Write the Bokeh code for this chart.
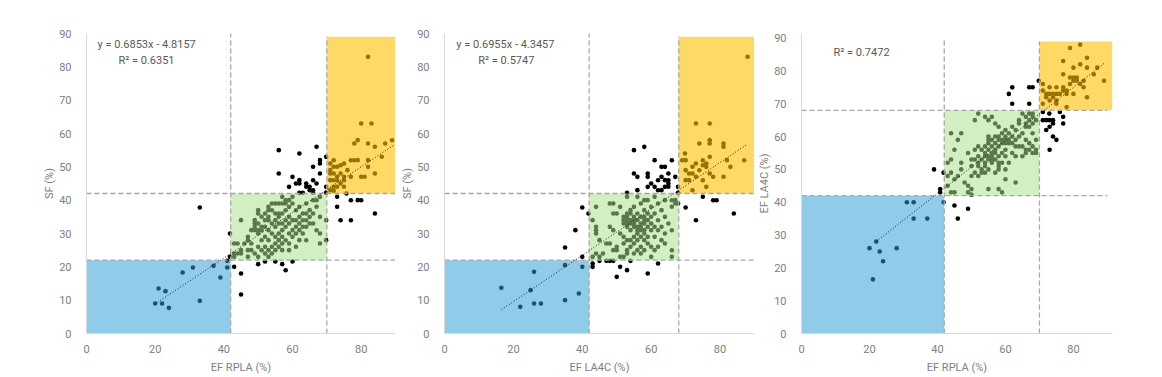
from bokeh.plotting import figure
from bokeh.layouts import row
from bokeh.models import Range1d, FixedTicker, Label
from bokeh.embed import file_html
from bokeh.resources import INLINE

# ---------------- data ----------------
# Panel 1: EF RPLA (x) vs SF (y)
p1_points = [
    # low group
    (20, 9), (21, 13.5), (22, 9), (23, 12.7), (24, 7.7), (28, 18.3), (31, 19.8), (33, 9.8),
    (37, 20.3), (39, 16.8), (41, 19.8),
    # outside boxes
    (33, 37.8), (41, 21.8), (41.8, 23), (41.8, 30), (43, 20), (45, 18), (45, 11.7), (50, 20.8),
    (52, 21.6), (55, 21.6), (57, 20.8), (58, 19), (60, 21.6),
    (56, 55), (56, 48), (62, 54), (60, 47), (59, 44), (62, 46), (62, 45), (64, 45), (62, 42.2),
    (63, 42.2), (65, 43), (66, 43), (66, 42.2), (66, 46), (66, 50), (67, 56), (68, 52), (68, 51),
    (68, 48), (69.8, 53), (69.8, 44), (69.8, 42.2), (64, 44), (65, 44), (67, 45), (61, 45),
    (69.8, 34), (69.8, 28), (73, 41), (73, 38), (74, 34), (75.7, 42), (77, 40), (77, 34),
    (79, 40), (80, 40), (84, 36),
    # high group
    (71, 51), (72, 50), (73, 50), (74, 50.5), (75, 51), (71, 46), (72, 46), (73, 47), (73, 46),
    (75, 47), (75, 46), (71, 43), (72, 44), (73, 44), (75, 44), (72, 48), (74, 48), (77, 47),
    (77, 52), (78, 52), (79, 52), (80, 47), (81, 47), (82, 50), (82, 52), (84, 48), (76, 49),
    (78, 57), (79, 58), (82, 57), (84, 56), (87, 57), (89, 58), (80, 63), (83, 63), (82, 83),
    (86, 53), (71, 48), (72, 42.8), (74, 45), (71, 49), (72, 52),
    # middle group
    (57, 41), (60, 41), (68, 41), (58, 40), (59, 40), (66, 40), (67, 40),
    (54, 39), (55, 39), (56, 39), (57, 39), (58, 39), (60, 39), (64, 39),
    (53, 38), (59, 38), (62, 38), (67, 38),
    (50, 37), (53, 37), (54, 37), (58, 37), (61, 37), (65, 37),
    (50, 36), (52, 36), (55, 36), (56, 36), (57, 36), (63, 36), (64, 36), (66, 36),
    (51, 35), (53, 35), (56, 35), (59, 35), (62, 35), (65, 35), (68, 35),
    (45, 34), (49, 34), (52, 34), (53, 34), (55, 34), (58, 34), (60, 34), (61, 34), (63, 34), (64, 34),
    (49, 33), (50, 33), (54, 33), (56, 33), (57, 33), (59, 33), (62, 33), (65, 33), (66, 33),
    (49, 32), (51, 32), (52, 32), (55, 32), (58, 32), (61, 32), (63, 32), (64, 32),
    (48, 31), (49, 31), (50, 31), (51, 31), (53, 31), (57, 31), (60, 31), (62, 31), (67, 31),
    (50, 30), (54, 30), (56, 30), (59, 30), (61, 30), (63, 30), (68, 30),
    (47, 29), (52, 29), (55, 29), (57, 29), (60, 29),
    (47, 28), (51, 28), (53, 28), (56, 28), (58, 28), (62, 28), (64, 28),
    (43, 27), (44, 27), (46, 27), (48, 27), (55, 27), (57, 27), (59, 27), (68, 27),
    (50, 26), (52, 26), (54, 26), (56, 26), (61, 26),
    (45, 25), (47, 25), (48, 25), (51, 25), (53, 25), (55, 25), (57, 25), (59, 25),
    (43, 24), (44, 24), (45, 24), (49, 24), (52, 24), (54, 24),
    (43, 23), (47, 23), (50, 23), (53, 23),
]

# Panel 2: EF LA4C (x) vs SF (y)
p2_points = [
    (16.5, 13.7), (22, 8), (25, 13), (26, 18.5), (26, 9), (28, 9), (35, 10), (35, 20.5),
    (39, 12), (40, 20),
    (40, 23), (35, 25.8), (38, 31), (40, 37.8), (41.8, 36), (43, 21), (43, 20), (45, 21.8),
    (47, 21.8), (48, 21.8), (49, 21.8), (50, 17), (51, 20), (53, 19), (54, 21.8), (59, 18), (62, 21),
    (55, 55), (58, 56), (55, 48), (56, 47), (56, 43), (53, 42.2), (59, 48), (59, 47), (60, 45),
    (59, 44), (61, 52), (62, 46), (63, 50), (64, 50), (63, 47), (64, 46), (64, 44), (63, 43),
    (65, 48), (65, 46), (65, 45), (65, 44), (66, 52), (67, 47), (67.8, 44), (67.8, 42.2),
    (61, 44), (62, 43),
    (67.8, 39), (70, 37.8), (73, 34), (75, 41), (78, 40), (79, 40), (84, 36),
    (69.8, 54), (69, 52), (70, 52), (71, 48), (72, 48), (72, 50), (73, 51), (73, 47), (70, 46),
    (71, 46), (72, 43), (73, 63), (77, 63), (74, 57), (77, 57), (75, 52), (76, 51), (75, 50.5),
    (76, 50), (77, 53), (75, 46), (77, 48), (78, 47), (81, 57), (81, 56), (81, 47), (82, 52),
    (83, 50), (87, 52), (88, 83), (77, 58), (74, 49), (70, 49), (76, 44),
    (53, 41), (56, 41), (61, 41), (58, 40), (59, 40), (64, 40), (66, 40), (67, 40),
    (48, 39), (49, 39), (57, 39), (62, 39), (67, 39),
    (44, 38), (51, 38), (55, 38), (60, 38), (66, 38),
    (54, 37), (58, 37), (63, 37),
    (49, 36), (50, 36), (53, 36), (54, 36), (56, 36), (59, 36), (61, 36),
    (52, 35), (53, 35), (55, 35), (57, 35), (58, 35), (60, 35), (64, 35),
    (43, 34), (52, 34), (53, 34), (54, 34), (55, 34), (56, 34), (58, 34), (59, 34), (62, 34),
    (52, 33), (53, 33), (54, 33), (55, 33), (57, 33), (58, 33), (60, 33), (65, 33),
    (44, 32), (48, 32), (53, 32), (55, 32), (56, 32), (57, 32), (59, 32), (61, 32), (63, 32),
    (44, 31), (49, 31), (54, 31), (56, 31), (57, 31), (58, 31), (60, 31), (62, 31), (66, 31),
    (44, 30), (51, 30), (56, 30), (58, 30), (64, 30),
    (52, 29), (55, 29), (57, 29), (59, 29), (61, 29),
    (45, 28), (53, 28), (54, 28), (56, 28), (58, 28), (63, 28),
    (47, 27), (48, 27), (52, 27), (55, 27), (59, 27), (64, 27),
    (50, 26), (54, 26), (57, 26), (60, 26), (62, 26),
    (49, 25), (50, 25), (53, 25), (56, 25), (58, 25), (61, 25), (66, 25),
    (44, 24), (46, 24), (53, 24), (55, 24), (57, 24),
    (43, 23), (45, 23), (51, 23), (52, 23), (60, 23), (66, 23),
]

# Panel 3: EF RPLA (x) vs EF LA4C (y)
p3_points = [
    (20, 26), (21, 16.5), (22, 28), (23, 25), (24, 22), (28, 26), (31, 40), (33, 40), (33, 35), (37, 35),
    (41.8, 40), (39, 50), (40.8, 44), (40.8, 43), (41.8, 49), (45, 39), (46, 35), (49, 38),
    (61, 73), (62, 75), (62, 70), (67, 75), (68, 75), (67, 70), (69.8, 77),
    (71, 65), (72, 65), (73, 65), (74, 65), (72.9, 67), (72, 62), (73, 63), (74, 64), (77, 66),
    (77, 64), (74, 60), (75, 59), (73, 56), (71, 67.5), (76, 67.5),
    (82, 88), (79, 87), (77, 83), (84, 84), (82, 82), (80, 81), (84, 81), (87, 81), (89, 77),
    (79, 78), (80, 78), (81, 78), (80, 77), (81, 77), (83, 77), (77, 79), (82, 76), (83, 75),
    (77, 75), (77, 74), (78, 74), (80, 73), (84, 72), (71, 76), (73, 75), (75, 75), (71, 74),
    (72, 73), (73, 73), (74, 73), (75, 73), (72, 72), (73, 71), (74, 72), (75, 71), (75, 70),
    (78, 69), (76, 73), (71, 70), (79, 76), (86, 79), (78, 73),
    (52, 67), (65, 67), (67, 67), (68, 67), (54, 66), (56, 66), (66, 66), (68, 66),
    (51, 65), (55, 65), (64, 65), (67, 65), (69, 65), (57, 64), (64, 64), (66, 64), (68, 64),
    (58, 63), (62, 63), (66, 63), (67, 63), (60, 62), (63, 62),
    (44, 61), (47, 61), (59, 61), (61, 61), (65, 61), (68, 61),
    (55, 60), (57, 60), (58, 60), (60, 60), (62, 60), (64, 60),
    (46, 59), (55, 59), (56, 59), (58, 59), (59, 59), (60, 59), (61, 59), (63, 59), (66, 59), (69, 59),
    (55, 58), (57, 58), (59, 58), (60, 58), (61, 58), (62, 58), (67, 58),
    (52, 57), (54, 57), (56, 57), (58, 57), (63, 57), (64, 57), (65, 57), (68, 57),
    (45, 56), (51, 56), (53, 56), (55, 56), (57, 56), (60, 56), (66, 56), (67, 56), (69, 56),
    (49, 55), (54, 55), (56, 55), (57, 55), (59, 55), (62, 55), (66, 55), (68, 55), (69, 55),
    (52, 54), (54, 54), (55, 54), (56, 54), (58, 54), (60, 54), (63, 54), (65, 54),
    (44, 53), (50, 53), (51, 53), (53, 53), (55, 53), (56, 53), (57, 53),
    (43, 52), (47, 52), (52, 52), (54, 52), (56, 52), (58, 52), (59, 52), (61, 52),
    (50, 51), (52, 51), (54, 51), (58, 51),
    (47, 50), (53, 50), (55, 50), (58, 50), (60, 50),
    (44, 49), (51, 49), (53, 49), (54, 49), (57, 49),
    (43, 48), (46, 48), (50, 48), (52, 48),
    (45, 47), (60, 47), (48, 46), (63, 46), (43, 45), (49, 45),
    (50, 44), (55, 44), (58, 44), (44, 43), (45, 43), (49, 43), (59, 43), (50, 42.3),
]

# zone thresholds (x cut points, y cut points)
p1_xcuts, p1_ycuts = [42, 70], [22, 42]
p2_xcuts, p2_ycuts = [42, 68], [22, 42]
p3_xcuts, p3_ycuts = [42, 70], [42, 68]

# trend lines: slope, intercept, x start, x end
p1_trend = (0.6853, -4.8157, 20, 90)
p2_trend = (0.6955, -4.3457, 16.5, 88)
p3_trend = (0.809, 10.26, 22, 89)

p1_text = ["y = 0.6853x - 4.8157", "R\u00b2 = 0.6351"]
p2_text = ["y = 0.6955x - 4.3457", "R\u00b2 = 0.5747"]
p3_text = ["R\u00b2 = 0.7472"]

x_labels = ["EF RPLA (%)", "EF LA4C (%)", "EF RPLA (%)"]
y_labels = ["SF (%)", "SF (%)", "EF LA4C (%)"]
x_ticks = [0, 20, 40, 60, 80]
y_ticks = [0, 10, 20, 30, 40, 50, 60, 70, 80, 90]

FONT = "Roboto"
BLUE, BLUE_A = "#2f9fd7", 0.535
GREEN, GREEN_A = "#a8e08a", 0.53
YELLOW, YELLOW_A = "#ffc000", 0.6
DASH_COLOR = "#a6a6a6"
TICK_COLOR = "#808080"
TEXT_COLOR = "#595959"

H, BT, BB = 377, 33, 44


def make_panel(points, xcuts, ycuts, trend, texts, text_pos, xlabel, ylabel,
               width, bl, br, xmax, ymax, ytop, vtop):
    p = figure(width=width, height=H, x_range=Range1d(0, xmax), y_range=Range1d(0, ymax),
               output_backend="svg", toolbar_location=None,
               min_border_left=bl, min_border_right=br, min_border_top=BT, min_border_bottom=BB)
    p.xgrid.visible = False
    p.ygrid.visible = False
    p.outline_line_color = None
    p.background_fill_color = "white"
    p.border_fill_color = "white"

    p.xaxis.ticker = FixedTicker(ticks=x_ticks)
    p.yaxis.ticker = FixedTicker(ticks=y_ticks)
    for ax in (p.xaxis[0], p.yaxis[0]):
        ax.major_tick_line_color = None
        ax.minor_tick_line_color = None
        ax.axis_line_color = "#d9d9d9"
        ax.axis_line_width = 1
        ax.major_label_text_color = TICK_COLOR
        ax.major_label_text_font = FONT
        ax.major_label_text_font_size = "11px"
        ax.axis_label_text_color = TICK_COLOR
        ax.axis_label_text_font = FONT
        ax.axis_label_text_font_size = "11px"
        ax.axis_label_text_font_style = "normal"
    p.xaxis.axis_label = xlabel
    p.yaxis.axis_label = ylabel
    p.xaxis.major_label_standoff = 5
    p.xaxis.axis_label_standoff = 5
    p.yaxis.major_label_standoff = 9
    p.yaxis.axis_label_standoff = 0

    xs = [pt[0] for pt in points]
    ys = [pt[1] for pt in points]
    p.scatter(xs, ys, size=4.6, color="black", line_width=0)

    # zones drawn over the points
    x1, x2 = xcuts
    y1, y2 = ycuts
    p.quad(left=[0], right=[x1], bottom=[0], top=[y1], fill_color=BLUE, fill_alpha=BLUE_A, line_color=None)
    p.quad(left=[x1], right=[x2], bottom=[y1], top=[y2], fill_color=GREEN, fill_alpha=GREEN_A, line_color=None)
    p.quad(left=[x2], right=[xmax], bottom=[y2], top=[ytop], fill_color=YELLOW, fill_alpha=YELLOW_A, line_color=None)

    # dashed guides
    dash = dict(line_color=DASH_COLOR, line_width=1.3, line_dash="5 3")
    p.segment(x0=[x1, x2], y0=[0, 0], x1=[x1, x2], y1=[vtop, ytop], **dash)
    p.segment(x0=[0, 0], y0=[y1, y2], x1=[90, 90], y1=[y1, y2], **dash)

    # trend line
    m, b, xa, xb = trend
    p.line([xa, xb], [m * xa + b, m * xb + b], line_color="#222222", line_width=1, line_dash="1 2")

    for t, (tx, ty) in zip(texts, text_pos):
        p.add_layout(Label(x=tx, y=ty, text=t, text_font=FONT, text_font_size="11px",
                           text_color=TEXT_COLOR, text_baseline="middle", text_align="left"))
    return p


f1 = make_panel(p1_points, p1_xcuts, p1_ycuts, p1_trend, p1_text, [(3.2, 86.7), (9.3, 81.9)],
                x_labels[0], y_labels[0], 395, 86, 0, 90, 90, 89, 90)
f2 = make_panel(p2_points, p2_xcuts, p2_ycuts, p2_trend, p2_text, [(3.4, 86.8), (9.8, 82.0)],
                x_labels[1], y_labels[1], 359, 49, 0, 90, 90, 89, 90)
f3 = make_panel(p3_points, p3_xcuts, p3_ycuts, p3_trend, p3_text, [(9.4, 85.7)],
                x_labels[2], y_labels[2], 407, 47, 49, 91.5, 91.4, 89, 89.3)

layout = row(f1, f2, f3, spacing=0)
open("out.html", "w").write(file_html(layout, INLINE))
